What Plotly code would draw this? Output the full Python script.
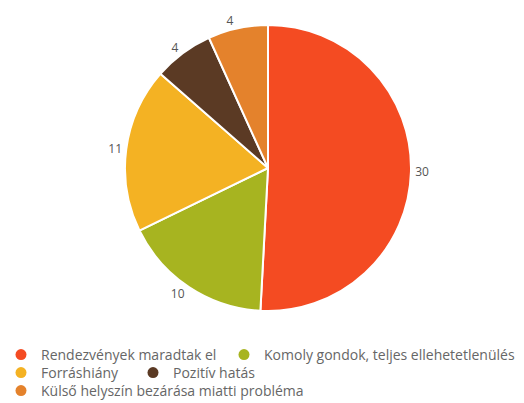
import plotly.graph_objects as go

labels = ["Rendezvények maradtak el", "Komoly gondok, teljes ellehetetlenülés",
          "Forráshiány", "Pozitív hatás", "Külső helyszín bezárása miatti probléma"]
values = [30, 10, 11, 4, 4]
colors = ["#F44B22", "#A7B420", "#F4B223", "#5B3A24", "#E4822C"]

W, H = 524, 403
cx, cy, half = 260, 160, 143

fig = go.Figure()
fig.add_trace(go.Pie(
    labels=labels, values=values, sort=False, direction="clockwise", rotation=0,
    marker=dict(colors=colors, line=dict(color="white", width=2)),
    textinfo="value", textposition="outside",
    outsidetextfont=dict(family="Open Sans", size=12, color="#555555"),
    showlegend=False, hoverinfo="label+value",
    domain=dict(x=[(cx - 182) / W, (cx + 182) / W],
                y=[(H - cy - half) / H, (H - cy + half) / H]),
))

# legend placement: (legend id, x px, y px)
legend_pos = [("legend", -7, 347), ("legend2", 216, 347), ("legend3", -7, 365),
              ("legend4", 125, 365), ("legend5", -7, 383)]

for (lid, _, _), lab, col in zip(legend_pos, labels, colors):
    fig.add_trace(go.Scatter(x=[None], y=[None], mode="markers", name=lab,
                             marker=dict(color=col, size=11, symbol="circle"),
                             legend=lid, showlegend=True, hoverinfo="skip"))

layout_legends = {}
for lid, xp, yp in legend_pos:
    layout_legends[lid] = dict(
        x=xp / W, y=1 - yp / H, xanchor="left", yanchor="middle",
        orientation="h", bgcolor="rgba(0,0,0,0)",
        font=dict(family="Open Sans", size=14, color="#666666"),
    )

fig.update_layout(
    width=W, height=H,
    margin=dict(l=0, r=0, t=0, b=0, autoexpand=False),
    paper_bgcolor="white", plot_bgcolor="white",
    xaxis=dict(visible=False), yaxis=dict(visible=False),
    **layout_legends,
)

fig.write_html("out.html")
